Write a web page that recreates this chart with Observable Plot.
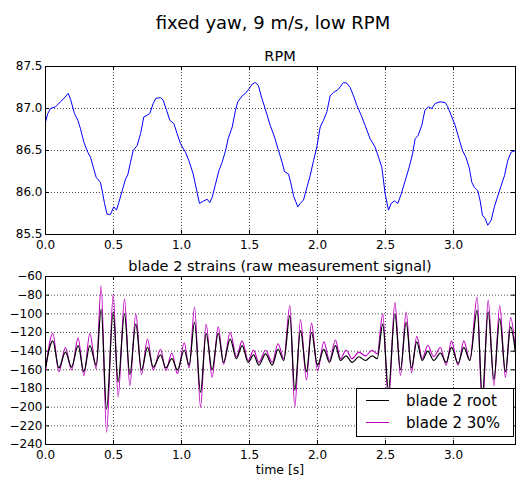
<!DOCTYPE html>
<html><head><meta charset="utf-8">
<script src="https://cdn.jsdelivr.net/npm/d3@7"></script>
<script src="https://cdn.jsdelivr.net/npm/@observablehq/plot@0.6"></script>
<style>
body{margin:0;background:#fff;font-family:"DejaVu Sans",sans-serif;}
#wrap{position:relative;width:516px;height:479px;overflow:hidden;}
.t{position:absolute;white-space:nowrap;transform:translateX(-50%);color:#000;line-height:1;}
.p{position:absolute;left:0;}
</style></head><body><div id="wrap"></div>
<script>
const figTitle = "fixed yaw, 9 m/s, low RPM";
const topTitle = "RPM";
const bottomTitle = "blade 2 strains (raw measurement signal)";
const xLabel = "time [s]";
const seriesLabels = ["blade 2 root", "blade 2 30%"];

const xTicks = [0, 0.5, 1.0, 1.5, 2.0, 2.5, 3.0];
const rpmTicks = [85.5, 86.0, 86.5, 87.0, 87.5];
const strainTicks = [-240, -220, -200, -180, -160, -140, -120, -100, -80, -60];

const rpmTime = [0,0.017,0.037,0.074,0.11,0.135,0.167,0.184,0.213,0.238,
0.257,0.282,0.311,0.331,0.355,0.373,0.404,0.417,0.434,0.453,
0.478,0.502,0.522,0.539,0.564,0.588,0.605,0.625,0.645,0.674,
0.699,0.723,0.748,0.767,0.792,0.811,0.846,0.865,0.89,0.914,
0.944,0.968,0.993,1.029,1.054,1.086,1.115,1.132,1.164,1.189,
1.208,1.225,1.25,1.275,1.299,1.324,1.343,1.373,1.397,1.414,
1.446,1.47,1.495,1.52,1.544,
1.566,1.591,1.615,1.652,1.684,1.713,1.74,1.757,1.787,1.806,
1.824,1.855,1.873,1.897,1.922,1.946,1.971,1.995,2.02,2.044,
2.069,2.093,2.118,2.154,2.191,2.216,2.24,2.265,2.289,2.321,
2.35,2.387,2.424,2.449,2.473,2.498,2.522,2.542,2.566,2.591,
2.615,2.645,2.674,2.699,2.718,2.74,2.767,2.79,2.816,2.84,
2.865,2.902,2.939,2.958,2.983,3.012,3.037,3.066,3.091,3.115,
3.135,3.154,3.179,3.196,3.213,3.233,3.252,3.277,3.301,3.326,
3.35,3.375,3.399,3.424,3.456];
const rpmValues = [86.84,86.94,87.0,87.02,87.08,87.12,87.18,87.11,86.94,86.86,
86.76,86.6,86.48,86.42,86.28,86.18,86.12,86.02,85.87,85.74,
85.74,85.83,85.79,85.88,86.02,86.16,86.21,86.36,86.5,86.56,
86.7,86.9,86.92,86.94,87.06,87.12,87.13,87.1,86.98,86.86,
86.82,86.7,86.58,86.48,86.38,86.22,86.0,85.87,85.9,85.92,
85.88,85.94,86.1,86.26,86.36,86.5,86.64,86.78,86.98,87.08,
87.15,87.18,87.23,87.29,87.31,
87.27,87.12,87.0,86.8,86.66,86.5,86.36,86.25,86.22,86.1,
85.96,85.83,85.87,85.91,86.06,86.2,86.38,86.54,86.78,86.86,
86.96,87.15,87.19,87.23,87.31,87.3,87.25,87.15,87.04,86.92,
86.8,86.64,86.54,86.42,86.3,85.98,85.79,85.87,85.9,85.87,
85.98,86.14,86.3,86.46,86.64,86.68,86.8,86.98,87.02,87.0,
87.06,87.08,87.07,87.02,86.92,86.8,86.66,86.5,86.42,86.3,
86.12,86.06,86.02,85.9,85.73,85.69,85.61,85.67,85.83,85.96,
86.08,86.2,86.38,86.48,86.5];

const strainTime = [0.000,0.054,0.098,0.147,0.191,0.240,0.282,0.326,0.373,0.409,
0.449,0.498,0.534,0.581,0.620,0.664,0.706,0.750,0.792,0.846,
0.885,0.929,0.970,1.020,1.056,1.096,1.140,1.181,1.225,1.270,
1.309,1.358,1.404,1.446,1.490,1.530,1.569,1.618,1.667,1.710,
1.752,1.797,1.833,1.875,1.919,1.956,2.000,2.047,2.088,2.132,
2.169,2.210,2.255,2.304,2.353,2.402,2.439,2.480,2.522,2.569,
2.610,2.652,2.691,2.730,2.770,2.811,2.855,2.904,2.946,2.985,
3.034,3.076,3.120,3.174,3.212,3.255,3.297,3.340,3.382,3.420,
3.456];
const strainRoot = [-158,-129,-158,-141,-157,-134,-162,-134,-155,-95,
-202,-98,-173,-100,-165,-111,-160,-136,-157,-144,
-158,-148,-160,-139,-155,-109,-184,-121,-160,-121,
-152,-127,-148,-134,-152,-144,-155,-143,-155,-138,
-150,-102,-182,-118,-162,-120,-155,-138,-152,-134,
-150,-145,-152,-146,-150,-145,-148,-111,-182,-100,
-160,-109,-158,-130,-150,-140,-150,-142,-152,-136,
-153,-136,-150,-96,-188,-98,-170,-105,-162,-114,
-142];
const strain30 = [-161,-121,-162,-136,-160,-126,-166,-121,-159,-70,
-227,-79,-189,-84,-177,-100,-165,-127,-160,-138,
-161,-142,-164,-131,-158,-93,-200,-111,-168,-114,
-154,-120,-146,-129,-150,-139,-152,-139,-152,-132,
-148,-91,-200,-106,-171,-110,-161,-130,-150,-128,
-148,-139,-148,-141,-145,-139,-143,-100,-195,-88,
-166,-98,-163,-124,-148,-134,-146,-136,-155,-129,
-155,-129,-150,-82,-205,-85,-177,-91,-168,-104,
-140];

const rpmData = rpmTime.map((t, i) => ({t, v: rpmValues[i]}));
const rootData = strainTime.map((t, i) => ({t, v: strainRoot[i]}));
const d30Data = strainTime.map((t, i) => ({t, v: strain30[i]}));

const W = 516, ML = 45, MR = 1, FH = 168, FW = W - ML - MR;
const xDomain = [0, 3.456];
const grid = {stroke: "#000", strokeWidth: 0.7, strokeDasharray: "1,2"};

function decor(yTicks, fmtY) {
  return [
    Plot.ruleX(xTicks, {x: d => d, ...grid}),
    Plot.ruleY(yTicks, {y: d => d, ...grid}),
    Plot.ruleX(xTicks, {x: d => d, insetTop: FH - 4, stroke: "#000"}),
    Plot.ruleX(xTicks, {x: d => d, insetBottom: FH - 4, stroke: "#000"}),
    Plot.ruleY(yTicks, {y: d => d, insetRight: FW - 4, stroke: "#000"}),
    Plot.ruleY(yTicks, {y: d => d, insetLeft: FW - 4, stroke: "#000"}),
    Plot.axisX(xTicks, {tickSize: 0, tickPadding: 6, tickFormat: d3.format(".1f"), fontSize: 12, label: null}),
    Plot.axisY(yTicks, {tickSize: 0, tickPadding: 3, tickFormat: fmtY, fontSize: 12, label: null})
  ];
}
const style = {fontFamily: "DejaVu Sans", fontSize: "12px", color: "#000", background: "transparent"};

const p1 = Plot.plot({
  width: W, height: 20 + FH + 22, marginTop: 20, marginBottom: 22, marginLeft: ML, marginRight: MR,
  x: {domain: xDomain}, y: {domain: [85.5, 87.5]}, style,
  marks: [
    ...decor(rpmTicks, d3.format(".1f")),
    Plot.line(rpmData, {x: "t", y: "v", stroke: "#0000ff", strokeWidth: 1, clip: true}),
    Plot.frame({stroke: "#000", strokeWidth: 1})
  ]
});

const p2 = Plot.plot({
  width: W, height: 20 + FH + 35, marginTop: 20, marginBottom: 35, marginLeft: ML, marginRight: MR,
  x: {domain: xDomain}, y: {domain: [-240, -60]}, style,
  marks: [
    ...decor(strainTicks, d3.format("d")),
    Plot.line(d30Data, {x: "t", y: "v", stroke: "#bf00bf", strokeWidth: 1.1, curve: "monotone-x", clip: true}),
    Plot.line(rootData, {x: "t", y: "v", stroke: "#000", strokeWidth: 1.2, curve: "monotone-x", clip: true}),
    Plot.frame({stroke: "#000", strokeWidth: 1})
  ]
});

// legend (lower right, inside frame)
{
  const xr = p2.scale("x").range, yr = p2.scale("y").range;
  const right = Math.max(...xr) - 1, bottom = Math.max(...yr) - 7;
  const lw = 158, lh = 49;
  const g = d3.select(p2).append("g").attr("transform", `translate(${right - lw},${bottom - lh})`)
    .attr("text-anchor", "start");
  g.append("rect").attr("x", 0.5).attr("y", 0.5).attr("width", lw - 1).attr("height", lh - 1)
    .attr("fill", "#fff").attr("stroke", "#000").attr("stroke-width", 1);
  const colors = ["#000", "#bf00bf"];
  seriesLabels.forEach((lab, i) => {
    const y = 12.5 + i * 22;
    g.append("line").attr("x1", 10).attr("x2", 33).attr("y1", y).attr("y2", y)
      .attr("stroke", colors[i]).attr("stroke-width", 1);
    g.append("text").attr("x", 50).attr("y", y).attr("dy", "0.35em").attr("text-anchor", "start")
      .attr("font-size", 15).attr("font-family", "DejaVu Sans").attr("fill", "#000").text(lab);
  });
}

const wrap = document.getElementById("wrap");
function addText(txt, cx, top, fs) {
  const d = document.createElement("div");
  d.className = "t"; d.textContent = txt;
  d.style.left = cx + "px"; d.style.top = top + "px"; d.style.fontSize = fs + "px";
  wrap.appendChild(d);
}
const b1 = document.createElement("div"); b1.className = "p"; b1.style.top = "46px"; b1.appendChild(p1); wrap.appendChild(b1);
const b2 = document.createElement("div"); b2.className = "p"; b2.style.top = "256px"; b2.appendChild(p2); wrap.appendChild(b2);
addText(figTitle, 273, 29 - 0.846 * 18, 18);
addText(topTitle, 280, 61 - 0.846 * 14.5, 14.5);
addText(bottomTitle, 280, 271 - 0.846 * 14.5, 14.5);
addText(xLabel, 280, 475 - 0.846 * 12.5, 12.5);
</script>
</body></html>
